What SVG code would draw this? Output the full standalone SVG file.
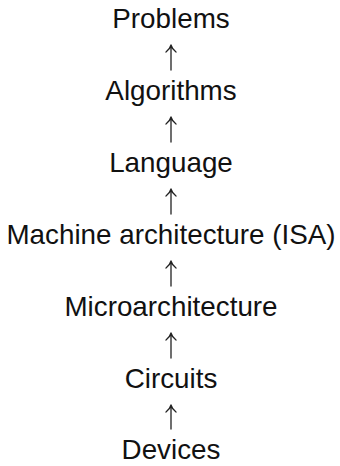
<svg xmlns="http://www.w3.org/2000/svg" width="340" height="466" viewBox="0 0 340 466">
  <style>
    .lbl { font-family: "Liberation Sans", Arial, sans-serif; font-size: 27.8px; fill: #111; text-anchor: middle; }
    .arr { fill: none; stroke: #222; stroke-width: 1.3; stroke-linecap: round; stroke-linejoin: round; }
  </style>
  <rect width="340" height="466" fill="#fff"/>
  <g id="connectors">
    <!-- upward arrows between abstraction levels -->
    <g transform="translate(171,28)"><path class="arr" d="M0,42 V17 M-5,24 Q-1,21 0,17 Q1,21 5,24"/></g>
    <g transform="translate(171,100)"><path class="arr" d="M0,42 V17 M-5,24 Q-1,21 0,17 Q1,21 5,24"/></g>
    <g transform="translate(171,172)"><path class="arr" d="M0,42 V17 M-5,24 Q-1,21 0,17 Q1,21 5,24"/></g>
    <g transform="translate(171,244)"><path class="arr" d="M0,42 V17 M-5,24 Q-1,21 0,17 Q1,21 5,24"/></g>
    <g transform="translate(171,316)"><path class="arr" d="M0,42 V17 M-5,24 Q-1,21 0,17 Q1,21 5,24"/></g>
    <g transform="translate(171,388)"><path class="arr" d="M0,41 V17 M-5,24 Q-1,21 0,17 Q1,21 5,24"/></g>
  </g>
  <g id="problems"><text class="lbl" x="171" y="28">Problems</text></g>
  <g id="algorithms"><text class="lbl" x="171" y="100">Algorithms</text></g>
  <g id="language"><text class="lbl" x="171" y="172">Language</text></g>
  <g id="isa"><text class="lbl" x="171" y="244">Machine architecture (ISA)</text></g>
  <g id="microarchitecture"><text class="lbl" x="171" y="316">Microarchitecture</text></g>
  <g id="circuits"><text class="lbl" x="171" y="388">Circuits</text></g>
  <g id="devices"><text class="lbl" x="171" y="459">Devices</text></g>
</svg>
